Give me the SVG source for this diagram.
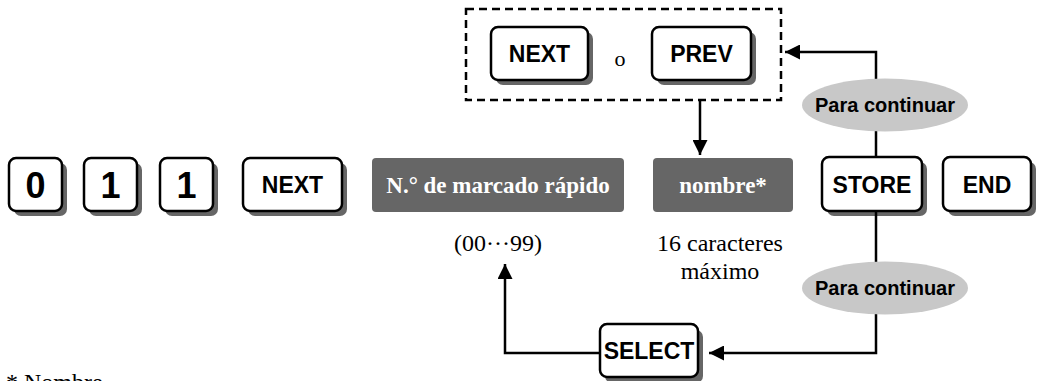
<svg xmlns="http://www.w3.org/2000/svg" width="1039" height="381" viewBox="0 0 1039 381">
<defs>
<style>
.key{fill:#fff;stroke:#000;stroke-width:2.5}
.sh{fill:#666}
.kt{font-family:"Liberation Sans",Arial,sans-serif;font-weight:bold;font-size:23px;text-anchor:middle;fill:#000}
.dig{font-family:"Liberation Sans",Arial,sans-serif;font-weight:bold;font-size:36px;text-anchor:middle;fill:#000}
.dark{fill:#666}
.dt{font-family:"Liberation Serif","Times New Roman",serif;font-weight:bold;font-size:23px;text-anchor:middle;fill:#fff}
.st{font-family:"Liberation Serif","Times New Roman",serif;font-size:24px;text-anchor:middle;fill:#000}
.ell{fill:#c8c8c8}
.et{font-family:"Liberation Sans",Arial,sans-serif;font-weight:bold;font-size:20px;text-anchor:middle;fill:#000}
.ln{fill:none;stroke:#000;stroke-width:2.5}
</style>
<marker id="ah" viewBox="0 0 10 10" refX="10" refY="5" markerWidth="7.5" markerHeight="6" markerUnits="strokeWidth" orient="auto">
<path d="M0,0 L10,5 L0,10 z" fill="#000"/>
</marker>
</defs>

<g id="key-0"><rect class="sh" x="14" y="163" width="53" height="53" rx="7"/><rect class="key" x="9" y="158" width="53" height="53" rx="7"/><text class="dig" x="35.5" y="198">0</text></g>
<g id="key-1a"><rect class="sh" x="89" y="163" width="53" height="53" rx="7"/><rect class="key" x="84" y="158" width="53" height="53" rx="7"/><text class="dig" x="110.5" y="198">1</text></g>
<g id="key-1b"><rect class="sh" x="165" y="163" width="53" height="53" rx="7"/><rect class="key" x="160" y="158" width="53" height="53" rx="7"/><text class="dig" x="186.5" y="198">1</text></g>
<g id="key-next"><rect class="sh" x="248" y="163" width="99" height="53" rx="7"/><rect class="key" x="243" y="158" width="99" height="53" rx="7"/><text class="kt" x="292.5" y="193">NEXT</text></g>

<g id="field-speed"><rect class="dark" x="372" y="158" width="252" height="54" rx="4"/><text class="dt" x="498" y="193">N.° de marcado rápido</text><text class="st" x="498" y="251">(00···99)</text></g>
<g id="field-name"><rect class="dark" x="653" y="158" width="140" height="54" rx="4"/><text class="dt" x="723" y="193">nombre*</text><text class="st" x="720" y="251">16 caracteres</text><text class="st" x="720" y="279">máximo</text></g>

<g id="key-store"><rect class="sh" x="827" y="162" width="100" height="54" rx="7"/><rect class="key" x="822" y="157" width="100" height="54" rx="7"/><text class="kt" x="872" y="193">STORE</text></g>
<g id="key-end"><rect class="sh" x="948" y="162" width="88" height="54" rx="7"/><rect class="key" x="943" y="157" width="88" height="54" rx="7"/><text class="kt" x="987" y="193">END</text></g>

<g id="group-nextprev">
<rect x="466" y="9" width="315" height="91" fill="none" stroke="#000" stroke-width="2.5" stroke-dasharray="8,5"/>
<g id="key-next2"><rect class="sh" x="496" y="32" width="97" height="53" rx="7"/><rect class="key" x="491" y="27" width="97" height="53" rx="7"/><text class="kt" x="539.5" y="62">NEXT</text></g>
<text class="st" x="620" y="66" style="font-size:22px">o</text>
<g id="key-prev"><rect class="sh" x="657" y="32" width="99" height="53" rx="7"/><rect class="key" x="652" y="27" width="99" height="53" rx="7"/><text class="kt" x="701.5" y="62">PREV</text></g>
</g>

<g id="connectors">
<path class="ln" d="M876,157 L876,52 L785,52" marker-end="url(#ah)"/>
<path class="ln" d="M700,100 L700,155" marker-end="url(#ah)"/>
<path class="ln" d="M876,211 L876,353 L709,353" marker-end="url(#ah)"/>
<path class="ln" d="M600,353 L505,353 L505,264" marker-end="url(#ah)"/>
</g>

<g id="label-cont1"><ellipse class="ell" cx="885" cy="105" rx="83" ry="26.5"/><text class="et" x="885" y="112">Para continuar</text></g>
<g id="label-cont2"><ellipse class="ell" cx="885" cy="288" rx="83" ry="26.5"/><text class="et" x="885" y="295">Para continuar</text></g>

<g id="key-select"><rect class="sh" x="605" y="330" width="98" height="53" rx="7"/><rect class="key" x="600" y="324" width="98" height="53" rx="7"/><text class="kt" x="649" y="359">SELECT</text></g>

<text x="6" y="390" style="font-family:'Liberation Serif','Times New Roman',serif;font-size:24px;fill:#000">* Nombre</text>
</svg>
